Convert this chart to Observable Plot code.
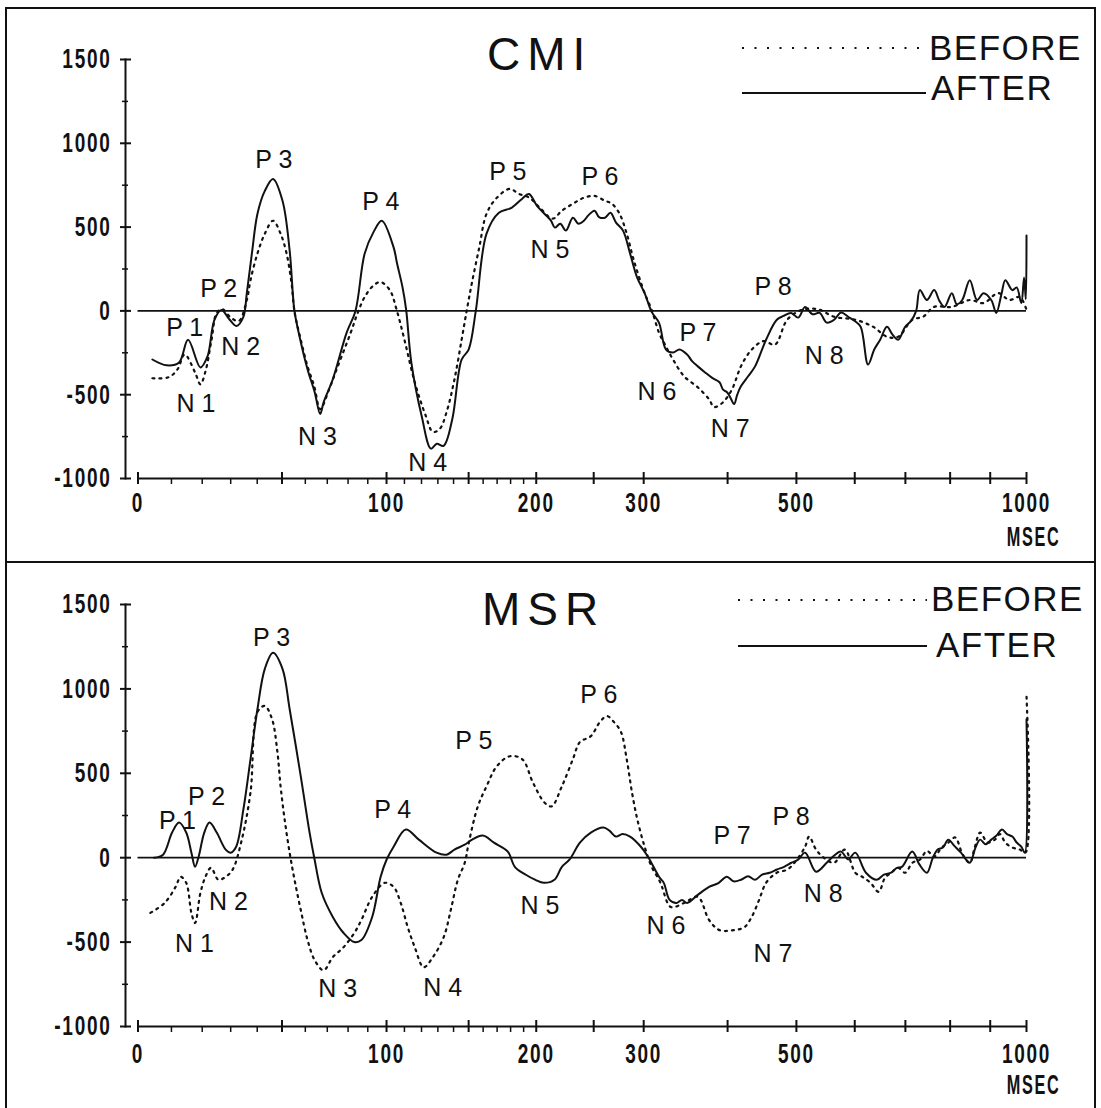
<!DOCTYPE html>
<html><head><meta charset="utf-8">
<script src="https://cdn.jsdelivr.net/npm/d3@7"></script>
<script src="https://cdn.jsdelivr.net/npm/@observablehq/plot@0.6"></script>
<style>
body{margin:0;background:#fff;}
#fig{position:relative;width:1101px;height:1108px;overflow:hidden;background:#fff;}
.panel{position:absolute;left:0;}
.box{position:absolute;border:2px solid #111;box-sizing:border-box;}
.ep g[aria-label="y-axis tick label"] text,.ep g[aria-label="x-axis tick label"] text{letter-spacing:2.5px;font-weight:bold;}
#over{position:absolute;left:0;top:0;}
#over text{font-family:"Liberation Sans",Arial,sans-serif;fill:#111;}
</style></head><body><div id="fig"></div>
<script>
// ---- axes ----
const timeMajor = [0,50,100,150,200,250,300,400,500,600,700,800,900,1000];
const timeMinor = [10,20,30,40,60,70,80,90,110,120,130,140,160,170,180,190];
const timeLabels = [0,100,200,300,500,1000];
const ampMajor = [-1000,-500,0,500,1000,1500];
const ampMinor = [-750,-250,250,750,1250];

// ---- CMI (upper panel), [msec, amplitude] ----
const cmiBefore = [[4.2,-402],[9.1,-396],[11.9,-349],[14.2,-260],[17.6,-367],[19.4,-438],[21.1,-361],[23.2,-172],[25,-12],[27,10],[30,-40],[33,-60],[36,65],[37.4,183],[40.1,343],[43,461],[46.3,538],[49.4,461],[51.9,343],[54,166],[55.3,-6],[58,-172],[61,-331],[64,-450],[66.7,-586],[70.9,-467],[75,-330],[81.3,-130],[84.8,-12],[88.4,83],[93.2,154],[96.8,172],[101.8,124],[105.6,6],[110,-172],[116,-426],[122.6,-627],[126.9,-722],[131.2,-704],[135.5,-604],[140.6,-408],[145.3,-172],[148.8,6],[152.2,166],[157.3,379],[162.4,580],[169.8,675],[179.4,728],[186.3,698],[194.6,675],[203,615],[213.6,550],[221.4,598],[231,639],[240.9,675],[250.8,686],[260.7,657],[267.5,639],[275,580],[282.3,461],[289.6,302],[301,106],[308.6,6],[316.7,-130],[324.5,-213],[332.5,-290],[345.4,-390],[362,-456],[376,-527],[382.4,-574],[394,-545],[406,-467],[418,-331],[433,-231],[450,-180],[467,-201],[485.5,-53],[508.7,6],[535,10],[562.9,-35],[601,-53],[635,-95],[662,-154],[685,-154],[714.6,-53],[738,-35],[763,24],[804,24],[847.7,65],[882.8,47],[921,106],[951.5,65],[981,83],[1000,6]];
const cmiAfter = [[4.2,-290],[8.5,-325],[12.4,-308],[15.3,-172],[19.4,-337],[21.8,-272],[24.2,-53],[26.7,6],[29.5,-50],[32.1,-90],[34.7,-35],[36,106],[38,350],[40.1,580],[43,716],[46.3,787],[50.2,657],[53.2,361],[55.2,6],[57.1,-130],[61,-349],[64.2,-485],[66.7,-615],[68.3,-545],[72.6,-408],[79.3,-130],[83.7,0],[88.4,343],[93,470],[97.4,538],[103.9,379],[105.8,284],[108.9,142],[111,6],[114,-308],[120.1,-627],[125.7,-822],[129.3,-793],[133.6,-805],[139.2,-645],[145.3,-290],[150,-231],[154.9,0],[162.4,461],[171.3,586],[180.7,615],[188.7,668],[194.2,698],[200.6,627],[206.7,580],[212,540],[215.4,497],[220,520],[224.9,479],[231,556],[236,520],[240.9,538],[245,570],[250.8,598],[255,560],[260.7,556],[266,585],[271.5,527],[278.5,479],[285.7,343],[292.9,201],[301,106],[308.6,-6],[316.7,-71],[324.5,-231],[332.5,-248],[340,-230],[349,-260],[355,-300],[362,-331],[371,-367],[380,-400],[389.4,-426],[394,-470],[399.3,-485],[404,-520],[408.7,-556],[413,-500],[418,-450],[428,-390],[437.8,-331],[453.7,-172],[469.7,-53],[480,-30],[491.6,-12],[503,-40],[514,24],[526,-20],[538,-12],[550,-70],[562.9,-53],[575,-10],[588,-35],[600,-60],[611,-95],[625,-320],[637,-230],[648.6,-172],[662,-95],[673,-140],[685,-172],[699.5,-95],[712,-60],[723,0],[731,124],[746.7,65],[763,124],[775,60],[787,24],[804,106],[816,40],[829,65],[847.7,183],[866,65],[882.8,106],[902.8,65],[916,-12],[930,100],[940.5,183],[959.8,124],[972,140],[985,47],[993,200],[998,70],[1000,450]];

// ---- MSR (lower panel), [msec, amplitude] ----
const msrBefore = [[3.6,-327],[7.9,-268],[11.3,-173],[12.9,-113],[14.7,-149],[16.4,-327],[17.6,-387],[19.4,-208],[21.1,-113],[23,-60],[25.6,-131],[28.2,-113],[30.7,-71],[34,100],[37.4,387],[40.1,863],[43,899],[45.9,821],[48.1,625],[49.4,423],[51.1,226],[53.2,30],[55.3,-131],[58,-310],[61,-488],[64.2,-607],[68.3,-667],[72.6,-589],[77.8,-530],[83.1,-446],[86.7,-369],[92.3,-232],[99,-149],[103.9,-173],[107.9,-268],[111.9,-411],[116,-530],[121.3,-649],[126.9,-589],[133.7,-470],[138.2,-310],[142.8,-131],[147.4,-30],[150.1,89],[156.3,304],[162.4,423],[169.8,542],[179.4,601],[189,583],[197.3,446],[206.7,327],[212.6,304],[221.4,423],[231,583],[237.3,685],[247.3,720],[255.9,804],[262.6,839],[269.4,804],[276.5,744],[282.3,583],[287.7,387],[293.3,226],[301,65],[308.6,-54],[316.7,-131],[320,-173],[330,-292],[345.4,-268],[362,-232],[376,-369],[389.4,-429],[408.7,-429],[423,-411],[433,-351],[443.6,-250],[453.7,-149],[469.7,-89],[485.5,-71],[497,-30],[514,65],[520.5,125],[532,48],[545,0],[562.9,-30],[581.8,48],[601,-89],[614,-113],[630,-150],[645.6,-202],[658,-120],[670.7,-89],[685,-60],[699.5,-89],[715,-30],[731,-12],[747,40],[763,6],[780,60],[795.6,89],[812,120],[830,20],[847.7,-30],[860,60],[874,149],[893,90],[912.5,107],[926,140],[940.5,89],[960,60],[981,48],[997,30],[1000,958]];
const msrAfter = [[4.7,0],[7.4,18],[10.2,149],[12.4,208],[14.7,149],[16.4,30],[17.6,-54],[18.8,6],[20.7,149],[22.5,208],[25,149],[28.2,48],[30,30],[32,65],[34.7,286],[37.4,583],[40.1,881],[43,1119],[46.3,1214],[50.2,1119],[53.2,881],[58,482],[61.9,149],[64,0],[67.4,-208],[72.6,-351],[77.8,-446],[83.1,-500],[86.7,-488],[92.3,-351],[96.8,-113],[100,-12],[103.9,65],[110.8,167],[118.4,107],[129.2,30],[135.5,18],[140.6,48],[147.4,77],[152.4,107],[159.8,131],[167.7,89],[177.9,36],[183.2,-54],[191.7,-101],[199,-130],[206.2,-149],[215,-131],[221.4,-54],[228,-12],[237.3,89],[247.3,149],[259.3,179],[265,160],[271.5,125],[278,140],[285.7,125],[297,65],[304.6,6],[316.7,-113],[322,-149],[328.6,-250],[336.8,-268],[343,-250],[349,-268],[362,-220],[376,-173],[388,-150],[399,-113],[408,-140],[418,-131],[428,-110],[437.8,-131],[448,-100],[459,-89],[470,-70],[480.8,-54],[492,-30],[502.7,-12],[514,30],[532,-83],[550,-30],[562,10],[575,36],[588,-10],[601,30],[621,-89],[642,-131],[656,-100],[670.7,-89],[682,-60],[692.8,-54],[714.6,36],[730,-40],[746.7,-89],[760,0],[771,48],[783,60],[795.6,107],[810,70],[826,30],[847.7,-30],[862,60],[874,107],[888,80],[902.8,107],[916,130],[931.5,167],[945,140],[959.8,125],[972,90],[985,65],[995,30],[1000,820]];

// ---- peak labels: [text, msec, amplitude] ----
const cmiLabels = [["P 1",14.2,-101],["N 1",17.9,-555],["P 2",25.7,131],["N 2",33.7,-215],["P 3",46.6,901],["N 3",65.5,-752],["P 4",96.9,651],["N 4",123.8,-907],["P 5",177.9,830],["N 5",211.2,364],["P 6",255.9,800],["N 6",314.5,-484],["P 7",362.2,-131],["N 7",403.4,-704],["P 8",464,143],["N 8",545.7,-269]];
const msrLabels = [["P 1",11.9,220],["N 1",17.4,-512],["P 2",21.5,357],["N 2",29.2,-262],["P 3",45.7,1304],["N 3",74.9,-780],["P 4",103.4,280],["N 4",133.1,-774],["P 5",153.5,690],["N 5",203,-286],["P 6",254.9,964],["N 6",324.5,-405],["P 7",405.9,131],["N 7",464,-571],["P 8",491.6,244],["N 8",544,-214]];

const titles = ["CMI","MSR"];
const legendNames = ["BEFORE","AFTER"];
const unitLabel = "MSEC";

const tickFont = '"Liberation Sans",Arial,sans-serif';
const labelFont = '"Liberation Sans",Arial,Helvetica,sans-serif';
const ink = "#111";

function panel(before, after, labels, yDomain, yRange, h, labelPad, msecDy) {
  const bottom = yRange[0];
  return Plot.plot({
    className: "ep",
    width: 1101, height: h,
    marginLeft: 125, marginRight: 75, marginTop: yRange[1], marginBottom: h - bottom,
    x: {type: "symlog", constant: 110, domain: [timeMajor[0], timeMajor[timeMajor.length-1]], range: [137.5, 1026]},
    y: {domain: yDomain, range: yRange},
    style: {fontFamily: tickFont, fontSize: "28px", color: ink, background: "transparent", overflow: "visible"},
    marks: [
      Plot.frame({anchor: "left", stroke: ink, strokeWidth: 2}),
      Plot.ruleY([ampMajor[0]], {x1: timeMajor[0], x2: timeMajor[timeMajor.length-1], stroke: ink, strokeWidth: 2}),
      Plot.ruleY([0], {x1: timeMajor[0], x2: timeMajor[timeMajor.length-1], stroke: ink, strokeWidth: 1.8}),
      Plot.axisY({ticks: ampMajor, tickSize: 11, dx: 6, tickFormat: () => "", label: null, stroke: ink, strokeWidth: 2}),
      Plot.axisY({ticks: ampMinor, tickSize: 6, dx: 3, tickFormat: () => "", label: null, stroke: ink, strokeWidth: 1.5}),
      Plot.axisY({ticks: ampMajor, tickSize: 0, tickPadding: 14, tickFormat: d => String(d), label: null}),
      Plot.axisX({ticks: timeMajor, tickSize: 12, dy: -6, tickFormat: () => "", label: null, stroke: ink, strokeWidth: 2}),
      Plot.axisX({ticks: timeMinor, tickSize: 6, tickFormat: () => "", label: null, stroke: ink, strokeWidth: 1.5}),
      Plot.axisX({ticks: timeLabels, tickSize: 0, tickPadding: labelPad, tickFormat: d => String(d), label: null}),
      Plot.text([unitLabel], {frameAnchor: "bottom-right", dx: 34, dy: msecDy, textAnchor: "end", lineAnchor: "middle", fontFamily: tickFont, fontSize: 28, fontWeight: "bold", fill: ink}),
      Plot.line(before, {x: d => d[0], y: d => d[1], stroke: ink, strokeWidth: 2.2, strokeDasharray: "2 5", curve: "catmull-rom"}),
      Plot.line(after, {x: d => d[0], y: d => d[1], stroke: ink, strokeWidth: 2, curve: "catmull-rom"}),
      Plot.text(labels, {x: d => d[1], y: d => d[2], text: d => d[0], fontFamily: labelFont, fontSize: 25, fill: ink})
    ]
  });
}

// condense the plotter-style axis lettering horizontally
function condense(svg) {
  const sel = [...svg.querySelectorAll('g[aria-label="y-axis tick label"] text, g[aria-label="x-axis tick label"] text')];
  svg.querySelectorAll("text").forEach(t => { if (t.textContent === unitLabel) { t.setAttribute("letter-spacing", "3"); sel.push(t); } });
  for (const t of sel) {
    const x = +t.getAttribute("x") || 0, y = +t.getAttribute("y") || 0;
    const s = t.textContent === unitLabel ? 0.58 : 0.68;
    const tr = t.getAttribute("transform") || "";
    t.setAttribute("transform", `${tr} translate(${x},${y}) scale(${s},1) translate(${-x},${-y})`);
  }
}

const fig = document.getElementById("fig");
const p1 = panel(cmiBefore, cmiAfter, cmiLabels, [ampMajor[0], ampMajor[ampMajor.length-1]], [478, 59], 561, 14, 59);
p1.classList.add("panel"); p1.style.top = "0px"; condense(p1);
const p2 = panel(msrBefore, msrAfter, msrLabels, [ampMajor[0], ampMajor[ampMajor.length-1]], [465, 43], 547, 17, 59);
p2.classList.add("panel"); p2.style.top = "561px"; condense(p2);
fig.appendChild(p1); fig.appendChild(p2);

// frames
const b1 = document.createElement("div"); b1.className = "box";
Object.assign(b1.style, {left: "5px", top: "7px", width: "1091px", height: "556px"});
const b2 = document.createElement("div"); b2.className = "box";
Object.assign(b2.style, {left: "5px", top: "561px", width: "1091px", height: "560px"});
fig.appendChild(b1); fig.appendChild(b2);

// titles and legends
const ns = "http://www.w3.org/2000/svg";
const over = document.createElementNS(ns, "svg");
over.setAttribute("id", "over"); over.setAttribute("width", 1101); over.setAttribute("height", 1108);
function add(tag, attrs, txt) {
  const e = document.createElementNS(ns, tag);
  for (const k in attrs) e.setAttribute(k, attrs[k]);
  if (txt) e.textContent = txt;
  over.appendChild(e);
}
const legends = [
  {title: titles[0], tx: 487, ty: 70, dash: 48, solid: 93, lx1: 742, lx2: 926, bx: 929, by: 60, ax: 931, ay: 100},
  {title: titles[1], tx: 482, ty: 625, dash: 600, solid: 646, lx1: 738, lx2: 927, bx: 931, by: 611, ax: 936, ay: 657}
];
for (const L of legends) {
  add("text", {x: L.tx, y: L.ty, "font-size": 46, "letter-spacing": 7}, L.title);
  add("line", {x1: L.lx1, x2: L.lx2, y1: L.dash, y2: L.dash, stroke: ink, "stroke-width": 2, "stroke-dasharray": "2 10.5"});
  add("line", {x1: L.lx1, x2: L.lx2, y1: L.solid, y2: L.solid, stroke: ink, "stroke-width": 1.8});
  add("text", {x: L.bx, y: L.by, "font-size": 35, "letter-spacing": 1.5}, legendNames[0]);
  add("text", {x: L.ax, y: L.ay, "font-size": 35, "letter-spacing": 1.5}, legendNames[1]);
}
fig.appendChild(over);
</script></body></html>
